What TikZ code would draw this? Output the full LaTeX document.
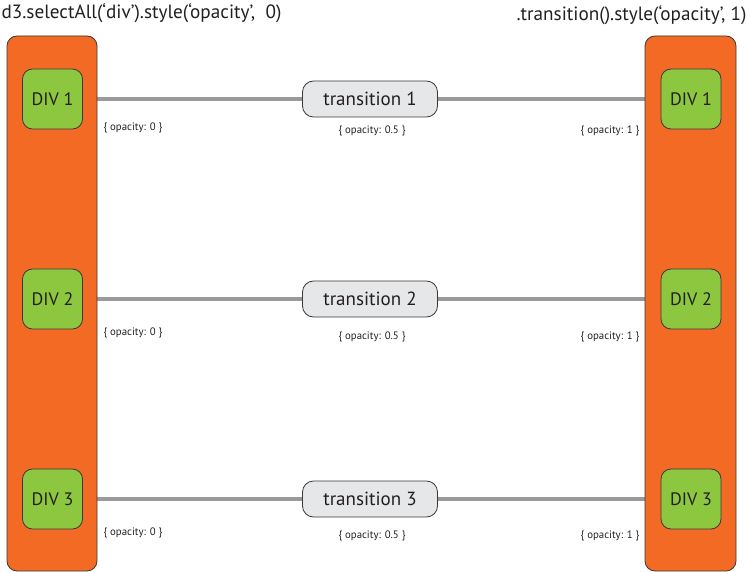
\documentclass[tikz,border=0pt]{standalone}
\usepackage{fontspec}
\setmainfont{PT Sans}
\usetikzlibrary{positioning,backgrounds}
\definecolor{boxorange}{HTML}{F36A24}
\definecolor{divgreen}{HTML}{8DC63F}
\definecolor{edge}{HTML}{3A3A3A}
\definecolor{linegray}{HTML}{9A9A9A}
\definecolor{tgray}{HTML}{E6E7E8}
\definecolor{ink}{HTML}{231F20}
\begin{document}
\begin{tikzpicture}[x=1pt,y=-1pt,text=ink,
    holder/.style={draw=edge,fill=boxorange,rounded corners=10pt,line width=0.8pt,minimum width=90pt,minimum height=535pt},
    divbox/.style={draw=edge,fill=divgreen,rounded corners=10pt,line width=0.8pt,minimum size=60pt,font=\fontsize{18}{20}\selectfont},
    tbox/.style={draw=edge,fill=tgray,rounded corners=11pt,line width=0.8pt,minimum width=135pt,minimum height=36pt,font=\fontsize{19}{21}\selectfont},
    link/.style={draw=linegray,line width=4pt},
    note/.style={font=\fontsize{10.8}{12}\selectfont}]
    \useasboundingbox (0,0) rectangle (750,572);
    % titles
    \node[anchor=west,font=\fontsize{19.2}{22}\selectfont] (start) at (-2,13) {d3.selectAll(`div').style(`opacity',\ \ 0)};
    \node[anchor=east,font=\fontsize{19.2}{22}\selectfont] (end) at (750,15) {.transition().style(`opacity', 1)};
    % containers
    \node[holder] (left) at (52,303.5) {};
    \node[holder,minimum width=91pt] (right) at (690.5,303.5) {};
    \foreach \i/\y/\a/\b in {1/99/128/131,2/299/333/337,3/499/533/536}{
        \node[divbox] (dl\i) at (52.5,\y) {DIV \i};
        \node[divbox] (dr\i) at (691,\y) {DIV \i};
        \node[tbox] (tr\i) at (370,\y) {transition \i};
        \node[note,anchor=west] (nl\i) at (100,\a) {\{ opacity: 0 \}};
        \node[note] (nm\i) at (372,\b) {\{ opacity: 0.5 \}};
        \node[note,anchor=east] (nr\i) at (643,\b) {\{ opacity: 1 \}};
        \begin{scope}[on background layer]
            \draw[link] (dl\i) -- (tr\i);
            \draw[link] (tr\i) -- (dr\i);
        \end{scope}
    }
\end{tikzpicture}
\end{document}
